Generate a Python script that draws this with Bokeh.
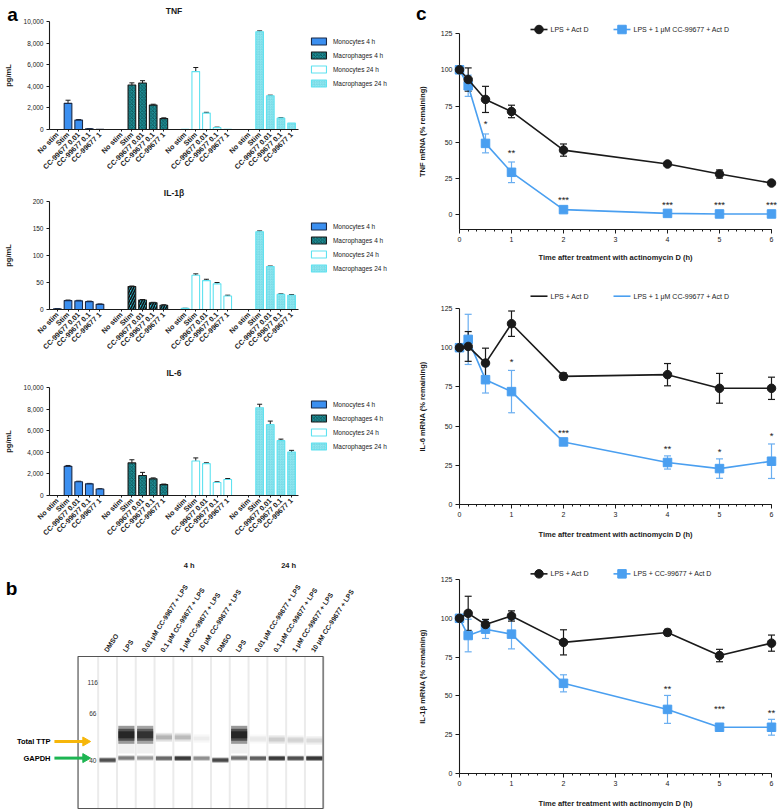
import math
from bokeh.plotting import figure
from bokeh.models import Range1d, FixedTicker, NumeralTickFormatter, Whisker, TeeHead, ColumnDataSource
from bokeh.layouts import column, row
from bokeh.embed import file_html
from bokeh.resources import INLINE
from bokeh.core.properties import value

FONT = "Liberation Sans"
INK = "#1a1a1a"

# ---------------- panel a data ----------------
conditions = ["No stim", "Stim", "CC-99677 0.01", "CC-99677 0.1", "CC-99677 1"]
cell_groups = ["Monocytes 4 h", "Macrophages 4 h", "Monocytes 24 h", "Macrophages 24 h"]

tnf_mean = [[0, 2420, 870, 60, 20], [0, 4120, 4300, 2260, 1010],
            [30, 5360, 1520, 170, 30], [0, 9050, 3130, 1050, 590]]
tnf_err = [[0, 290, 50, 20, 0], [0, 200, 220, 80, 70],
           [0, 380, 70, 50, 0], [0, 80, 50, 40, 0]]
il1b_mean = [[1.5, 16.5, 16, 14.5, 9.5], [0, 42.5, 17.5, 12.5, 8],
             [2, 63.5, 53.5, 47.5, 25], [0, 144, 79.5, 28, 26.5]]
il1b_err = [[0.3, 1, 1, 1, 0.8], [0, 1, 1, 0.8, 0.8],
            [0.3, 2.5, 2.5, 2.5, 1.5], [0, 1.5, 1, 1, 1]]
il6_mean = [[0, 2700, 1270, 1080, 600], [0, 3020, 1850, 1540, 1010],
            [0, 3200, 2950, 1210, 1480], [0, 8120, 6560, 5080, 4030]]
il6_err = [[0, 80, 50, 40, 30], [0, 290, 290, 90, 50],
           [0, 280, 80, 60, 90], [0, 330, 330, 140, 150]]

# ---------------- panel b data ----------------
lane_labels = ["DMSO", "LPS", "0.01 μM CC-99677 + LPS", "0.1 μM CC-99677 + LPS",
               "1 μM CC-99677 + LPS", "10 μM CC-99677 + LPS"] * 2
time_headers = ["4 h", "24 h"]
ladder_kda = [116, 66, 40]
ladder_pos = [26, 56.6, 104.3]         # migration, px below top of the capillary image
ttp_intensity = [0, 0.95, 0.85, 0.22, 0.2, 0.05, 0, 0.95, 0.06, 0.14, 0.12, 0.1]
ttp_pos = [0, 78.3, 78.3, 80.8, 80.8, 82, 0, 78.3, 82.5, 83, 83.5, 84]
gapdh_intensity = [0.8, 0.55, 0.4, 0.65, 0.95, 0.45, 0.85, 0.6, 0.7, 0.95, 0.8, 0.97]
gapdh_pos = [103.6, 101.5, 101.5, 101.8, 101.8, 101.8, 103.6, 101.5, 101.8, 101.8, 101.8, 101.8]
arrow_names = ["Total TTP", "GAPDH"]
arrow_pos = [85, 101.6]
arrow_colors = ["#f6b60a", "#1db552"]

# ---------------- panel c data ----------------
times = [0, 0.167, 0.5, 1, 2, 4, 5, 6]
tnf_ctrl = [100, 93.3, 79.6, 71.3, 44.7, 35.1, 28.2, 22.0]
tnf_ctrl_err = [1, 8, 9, 4.3, 4.2, 1.2, 2.8, 1]
tnf_cc = [100, 89, 49.3, 29.4, 3.7, 1.1, 0.7, 0.7]
tnf_cc_err = [1.5, 7.3, 6.5, 7.1, 1, 0.6, 0.5, 0.5]
tnf_star_t = [0.5, 1, 2, 4, 5, 6]
tnf_star_txt = ["*", "**", "***", "***", "***", "***"]
tnf_star_y = [63, 43, 10.5, 7, 7, 7]

il6_ctrl = [100, 100.8, 90.2, 115.3, 81.7, 82.8, 74.1, 74.1]
il6_ctrl_err = [1, 9.5, 9.5, 8.1, 2.2, 7.1, 9.5, 7.1]
il6_cc = [100, 105.3, 79.6, 72.0, 39.9, 26.8, 22.9, 27.6]
il6_cc_err = [1, 16, 8.5, 13.5, 1, 4.2, 6.2, 11]
il6_star_t = [1, 2, 4, 5, 6]
il6_star_txt = ["*", "***", "**", "*", "*"]
il6_star_y = [91.5, 45.9, 35.7, 33.5, 43.7]

il1b_ctrl = [100, 103.2, 96.0, 101.5, 84.5, 90.9, 76.0, 84.0]
il1b_ctrl_err = [1, 11, 3.3, 3.3, 8.1, 2, 4, 5.2]
il1b_cc = [100, 88.9, 93.0, 89.8, 58.1, 41.3, 29.8, 29.8]
il1b_cc_err = [1, 10.5, 6, 9.5, 5.5, 9, 1.2, 5.1]
il1b_star_t = [4, 5, 6]
il1b_star_txt = ["**", "***", "**"]
il1b_star_y = [54.5, 41.9, 39.6]

BLUE = "#4a9ff0"
BLUE_ERR = "#6aaef0"


class FrameMap:
    """Converts figure-relative pixel offsets into data coordinates of a figure's frame."""
    def __init__(self, left, top, w, h, x0, x1, y_bottom, y_top):
        self.left, self.top, self.w, self.h = left, top, w, h
        self.x0, self.x1, self.yb, self.yt = x0, x1, y_bottom, y_top

    def x(self, px):
        return self.x0 + (px - self.left) * (self.x1 - self.x0) / self.w

    def y(self, py):
        return self.yt - (py - self.top) * (self.yt - self.yb) / self.h


def base_fig(w, h, xr, yr, left, right, top, bottom, **kw):
    p = figure(width=w, height=h, x_range=xr, y_range=yr, output_backend="svg",
               toolbar_location=None, min_border_left=left, min_border_right=right,
               min_border_top=top, min_border_bottom=bottom, **kw)
    p.outline_line_color = None
    p.background_fill_color = "white"
    p.border_fill_color = "white"
    p.xgrid.visible = False
    p.ygrid.visible = False
    return p


def txt(p, xs, ys, texts, size, bold=False, align="left", baseline="middle", color=INK, angle=0):
    p.text(x=xs, y=ys, text=texts, text_font=value(FONT), text_font_size=f"{size}px",
           text_font_style="bold" if bold else "normal", text_align=align,
           text_baseline=baseline, text_color=color, angle=angle, level="overlay")


def style_axis(ax, tick_font=6.5):
    ax.axis_line_color = INK
    ax.axis_line_width = 1.1
    ax.major_tick_line_color = INK
    ax.minor_tick_line_color = INK
    ax.major_tick_in = 0
    ax.minor_tick_in = 0
    ax.major_label_text_font = FONT
    ax.major_label_text_font_size = f"{tick_font}px"
    ax.major_label_text_color = INK
    ax.axis_label_text_font = FONT
    ax.axis_label_text_font_style = "bold"
    ax.axis_label_text_color = INK


MAC4 = dict(fill_color="#1f8e95", hatch_pattern="diagonal_cross", hatch_color="#0b4a50",
            hatch_scale=3.5, hatch_weight=0.8, line_color=INK)
MAC4_STRIPE = dict(fill_color="#2bb5cc", hatch_pattern="right_diagonal_line", hatch_color="#111111",
                   hatch_scale=5, hatch_weight=1.6, line_color=INK)
BAR_STYLES = [dict(fill_color="#3b8ff0", line_color="#1b2a48"), MAC4,
              dict(fill_color="white", line_color="#5fe2f0"),
              dict(fill_color="#97ebf3", hatch_pattern="criss_cross", hatch_color="#74d6e3",
                   hatch_scale=2.5, hatch_weight=0.6, line_color="#5fe2f0")]

BAR_L, BAR_R, BAR_W = 45, 92, 390


def bar_panel(title, means, errs, ymax, ystep, fig_h, ftop, fbot, title_y, leg_y0,
              ylab_standoff, stripe=False, letter=None):
    x0, x1 = -0.74, 22.65
    p = base_fig(BAR_W, fig_h, Range1d(x0, x1), Range1d(0, ymax), BAR_L, BAR_R, ftop, fig_h - fbot)
    fm = FrameMap(BAR_L, ftop, BAR_W - BAR_L - BAR_R, fbot - ftop, x0, x1, 0, ymax)
    ticks, overrides = [], {}
    for g, name in enumerate(cell_groups):
        st = MAC4_STRIPE if (stripe and g == 1) else BAR_STYLES[g]
        xs = [g * 6 + i for i in range(len(conditions))]
        src = ColumnDataSource(dict(x=xs, top=means[g]))
        p.vbar(x="x", top="top", width=0.72, source=src, line_width=1.1, **st)
        ex = [x for x, e in zip(xs, errs[g]) if e > 0]
        em = [m for m, e in zip(means[g], errs[g]) if e > 0]
        eu = [m + e for m, e in zip(means[g], errs[g]) if e > 0]
        esrc = ColumnDataSource(dict(x=ex, lo=em, hi=eu))
        p.add_layout(Whisker(source=esrc, base="x", upper="hi", lower="lo", dimension="height",
                             line_color=INK, line_width=1,
                             upper_head=TeeHead(size=5, line_color=INK, line_width=1),
                             lower_head=None))
        for i, c in enumerate(conditions):
            ticks.append(xs[i])
            overrides[xs[i]] = c
        # legend entry
        ly = fm.y(leg_y0 + 14 * g)
        p.rect(x=[fm.x(318.8)], y=[ly], width=15, height=7, width_units="screen",
               height_units="screen", line_width=1.1, level="overlay", **BAR_STYLES[g])
    txt(p, [fm.x(333)] * 4, [fm.y(leg_y0 + 14 * g) for g in range(4)], cell_groups, 6.5)
    txt(p, [fm.x(171.5)], [fm.y(title_y)], [title], 8.5, bold=True, align="center")
    if letter:
        txt(p, [fm.x(7.5)], [fm.y(13.5)], [letter], 19, bold=True, align="center",
            baseline="alphabetic", color="black")
    style_axis(p.xaxis[0])
    style_axis(p.yaxis[0])
    p.xaxis.ticker = FixedTicker(ticks=ticks)
    p.xaxis.major_label_overrides = overrides
    p.xaxis.major_label_orientation = math.pi / 4
    p.xaxis.major_label_text_font_style = "bold"
    p.xaxis.major_label_text_font_size = "7.2px"
    p.xaxis.major_tick_out = 2
    p.xaxis.major_label_standoff = 2
    p.yaxis.ticker = FixedTicker(ticks=list(range(0, ymax + 1, ystep)))
    p.yaxis.formatter = NumeralTickFormatter(format="0,0")
    p.yaxis.major_tick_out = 3
    p.yaxis.major_label_standoff = 3
    p.yaxis.axis_label = "pg/mL"
    p.yaxis.axis_label_text_font_size = "7.5px"
    p.yaxis.axis_label_standoff = ylab_standoff
    return p


C_L, C_R, C_W = 69, 9, 390


def decay_panel(ylabel, ctrl, ctrl_err, cc, cc_err, st_t, st_txt, st_y, ymin, cc_label,
                fig_h, ftop, fbot, leg_cy, xlab_standoff, letter=None):
    p = base_fig(C_W, fig_h, Range1d(0, 6), Range1d(ymin, 125), C_L, C_R, ftop, fig_h - fbot)
    fm = FrameMap(C_L, ftop, C_W - C_L - C_R, fbot - ftop, 0, 6, ymin, 125)
    series = [(cc, cc_err, BLUE, BLUE_ERR, "square"), (ctrl, ctrl_err, INK, INK, "circle")]
    for vals, errs, color, wcol, marker in series:
        lo = [v - e for v, e in zip(vals, errs)]
        hi = [v + e for v, e in zip(vals, errs)]
        p.segment(x0=times, x1=times, y0=lo, y1=hi, line_color=wcol, line_width=1.2,
                  level="overlay")
        p.scatter(x=times + times, y=lo + hi, marker="dash", size=7, line_color=wcol,
                  line_width=1.2, level="overlay")
    for vals, errs, color, wcol, marker in series:
        p.line(times, vals, line_color=color, line_width=1.6, level="overlay")
        p.scatter(times, vals, marker=marker, size=8.5, fill_color=color, line_color=color,
                  level="overlay")
    txt(p, st_t, st_y, st_txt, 9.5, align="center")
    # legend
    ly = fm.y(leg_cy)
    for (gx0, gx1, mx, lx, col, mk, lab) in [(140, 157, 148.5, 160, INK, "circle", "LPS + Act D"),
                                             (223, 240, 231.5, 243, BLUE, "square", cc_label)]:
        p.segment(x0=[fm.x(gx0)], x1=[fm.x(gx1)], y0=[ly], y1=[ly], line_color=col,
                  line_width=1.6, level="overlay")
        p.scatter(x=[fm.x(mx)], y=[ly], marker=mk, size=8.5, fill_color=col, line_color=col,
                  level="overlay")
        txt(p, [fm.x(lx)], [ly], [lab], 7)
    if letter:
        txt(p, [fm.x(30.7)], [fm.y(13)], [letter], 19, bold=True, align="center",
            baseline="alphabetic", color="black")
    style_axis(p.xaxis[0], 7)
    style_axis(p.yaxis[0], 7)
    p.xaxis.ticker = FixedTicker(ticks=list(range(7)), minor_ticks=[k / 6 for k in range(37)])
    p.xaxis.major_tick_out = 4
    p.xaxis.minor_tick_out = 2
    p.xaxis.major_label_standoff = 3
    p.xaxis.axis_label = "Time after treatment with actinomycin D (h)"
    p.xaxis.axis_label_text_font_size = "7.5px"
    p.xaxis.axis_label_standoff = xlab_standoff
    p.yaxis.ticker = FixedTicker(ticks=[0, 25, 50, 75, 100, 125])
    p.yaxis.major_tick_out = 4
    p.yaxis.major_label_standoff = 3
    p.yaxis.axis_label = ylabel
    p.yaxis.axis_label_text_font_size = "7.5px"
    p.yaxis.axis_label_standoff = 11
    return p


def blot_panel(fig_h):
    # figure-relative pixel layout of the capillary image
    box_top, box_left, box_right, box_h = 111, 74, 323, 152
    lane0, pitch = 104, 19.1
    x0 = (BAR_L - lane0) / pitch
    x1 = (BAR_W - BAR_R - lane0) / pitch
    p = base_fig(BAR_W, fig_h, Range1d(x0, x1), Range1d(box_h, 0), BAR_L, BAR_R, box_top,
                 fig_h - box_top - box_h, x_axis_type=None, y_axis_type=None)
    lx = lambda px: (px - lane0) / pitch
    lanes = list(range(len(lane_labels)))
    bx0, bx1 = lx(box_left), lx(box_right)
    # lane separators
    seps = [l - 0.5 for l in lanes] + [lanes[-1] + 0.5]
    p.segment(x0=seps, x1=seps, y0=[0] * len(seps), y1=[box_h] * len(seps),
              line_color="#ebebeb", line_width=2, level="overlay")
    # TTP bands, layered for soft edges
    for h, a in [(18, 0.42), (12, 0.5), (7, 0.55)]:
        xs, ys, hs, al = [], [], [], []
        for l, it, pos in zip(lanes, ttp_intensity, ttp_pos):
            if it <= 0:
                continue
            strong = it > 0.5
            xs.append(l)
            ys.append(pos)
            hs.append(h if strong else h * 0.5)
            al.append(a * it)
        p.rect(x=xs, y=ys, width=0.86, height=hs, fill_color="black", fill_alpha=al,
               line_color=None, level="overlay")
    smear = [l for l, it in zip(lanes, ttp_intensity) if it > 0.5]
    p.rect(x=smear, y=[92] * len(smear), width=0.86, height=10, fill_color="black",
           fill_alpha=0.06, line_color=None, level="overlay")
    for h, a in [(5, 0.5), (3, 0.6)]:
        p.rect(x=lanes, y=gapdh_pos, width=0.86, height=h, fill_color="black",
               fill_alpha=[a * g for g in gapdh_intensity], line_color=None, level="overlay")
    # image border
    p.rect(x=[(bx0 + bx1) / 2], y=[box_h / 2], width=[bx1 - bx0], height=[box_h],
           fill_color=None, line_color="#555555", line_width=1.2, level="overlay")
    txt(p, [lx(89)] * 3, ladder_pos, [str(k) for k in ladder_kda], 6.5, align="center",
        color="#333333")
    txt(p, [l - 2 / pitch for l in lanes], [-5] * len(lanes), lane_labels, 6.8, bold=True,
        angle=math.radians(57))
    txt(p, [lx(187), lx(288)], [20 - box_top] * 2, time_headers, 7.5, bold=True, align="center")
    for name, ay, col in zip(arrow_names, arrow_pos, arrow_colors):
        p.segment(x0=[lx(50)], x1=[lx(80)], y0=[ay], y1=[ay], line_color=col, line_width=3,
                  level="overlay")
        p.scatter(x=[lx(81.5)], y=[ay], marker="triangle", angle=-math.pi / 2, size=9,
                  fill_color=col, line_color=col, level="overlay")
        txt(p, [lx(46)], [ay], [name], 7.5, bold=True, align="right", color="black")
    txt(p, [lx(6.5)], [43 - box_top], ["b"], 19, bold=True, align="center",
        baseline="alphabetic", color="black")
    return p


a1 = bar_panel("TNF", tnf_mean, tnf_err, 10000, 2000, 180, 21, 129, 10, 41, 8, letter="a")
a2 = bar_panel("IL-1β", il1b_mean, il1b_err, 200, 50, 180, 21, 129, 12, 46, 17, stripe=True)
a3 = bar_panel("IL-6", il6_mean, il6_err, 10000, 2000, 185, 27, 135, 12, 44, 8)
b = blot_panel(265)

c1 = decay_panel("TNF mRNA (% remaining)", tnf_ctrl, tnf_ctrl_err, tnf_cc, tnf_cc_err,
                 tnf_star_t, tnf_star_txt, tnf_star_y, -10, "LPS + 1 μM CC-99677 + Act D",
                 265, 33, 229, 29, 8, letter="c")
c2 = decay_panel("IL-6 mRNA (% remaining)", il6_ctrl, il6_ctrl_err, il6_cc, il6_cc_err,
                 il6_star_t, il6_star_txt, il6_star_y, 0, "LPS + 1 μM CC-99677 + Act D",
                 276, 43, 239, 30.7, 10)
c3 = decay_panel("IL-1β mRNA (% remaining)", il1b_ctrl, il1b_ctrl_err, il1b_cc, il1b_cc_err,
                 il1b_star_t, il1b_star_txt, il1b_star_y, 0, "LPS + CC-99677 + Act D",
                 269, 38, 234, 32.3, 10)

layout = row(column(a1, a2, a3, b), column(c1, c2, c3))
open("out.html", "w").write(file_html(layout, INLINE))
